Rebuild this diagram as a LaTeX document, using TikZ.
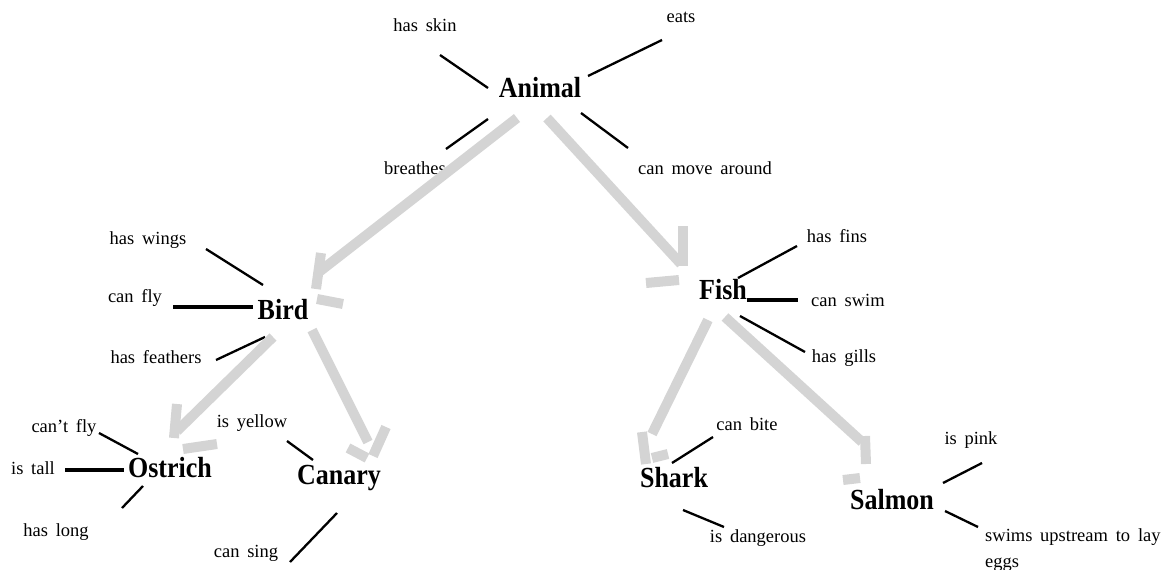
\documentclass[tikz,border=0pt]{standalone}
\usepackage{fontspec}
\setmainfont{Liberation Serif}
\usepackage{graphicx}
\definecolor{arrowgray}{RGB}{212,212,212}
\newcommand\stretchy[1]{\scalebox{1}[1.12]{#1}}
\newcommand\propfont{\fontsize{18.5}{26}\selectfont\spaceskip 0.42em\relax}
\begin{document}
\begin{tikzpicture}[x=1pt,y=-1pt,
  concept/.style={inner sep=0pt, font=\fontsize{26}{30}\selectfont\bfseries},
  attr/.style={inner sep=0pt, font=\propfont},
  tie/.style={line width=2.3pt},
  heavytie/.style={line width=4.6pt},
  isa/.style={draw=arrowgray, line width=10pt},
]
\useasboundingbox (0,0) rectangle (1162,570);

% concepts
\node[concept] (animal)  at (540,88)  {\stretchy{Animal}};
\node[concept] (bird)    at (283,310) {\stretchy{Bird}};
\node[concept] (fish)    at (723,290) {\stretchy{Fish}};
\node[concept] (ostrich) at (170,468) {\stretchy{Ostrich}};
\node[concept] (canary)  at (339,478) {\stretchy{Canary}};
\node[concept] (shark)   at (674,478) {\stretchy{Shark}};
\node[concept] (salmon)  at (892,500) {\stretchy{Salmon}};

% properties
\node[attr] (hasskin)     at (425,25)  {has skin};
\node[attr] (eats)        at (681,17)  {eats};
\node[attr] (breathes)    at (415,168) {breathes};
\node[attr] (canmove)     at (705,168) {can move around};
\node[attr] (haswings)    at (148,240) {has wings};
\node[attr] (canfly)      at (135,298) {can fly};
\node[attr] (hasfeathers) at (156,357) {has feathers};
\node[attr] (hasfins)     at (837,236) {has fins};
\node[attr] (canswim)     at (848,300) {can swim};
\node[attr] (hasgills)    at (844,358) {has gills};
\node[attr] (cantfly)     at (64,428)  {can’t fly};
\node[attr] (istall)      at (33,468)  {is tall};
\node[attr] (haslong)     at (56,532)  {has long};
\node[attr] (isyellow)    at (252,423) {is yellow};
\node[attr] (cansing)     at (246,553) {can sing};
\node[attr] (canbite)     at (747,424) {can bite};
\node[attr] (isdangerous) at (758,538) {is dangerous};
\node[attr] (ispink)      at (971,440) {is pink};
\node[attr, anchor=west, align=left] (swims) at (985,550) {swims upstream to lay\\eggs};

% property ties
\foreach \n/\xa/\ya/\xb/\yb in {
  skin/440/55/488/88, eats/662/40/588/76, breathes/488/119/446/149,
  move/581/113/628/148, wings/206/249/263/285, feathers/265/337/216/360,
  fins/797/246/738/278, gills/740/316/805/352, cantfly/99/433/138/454,
  long/143/486/122/508, yellow/287/441/313/460, sing/337/513/290/562,
  bite/713/437/672/463, dangerous/683/510/724/527, pink/982/463/943/483,
  upstream/945/511/978/527}
{
  \coordinate (\n-a) at (\xa,\ya);
  \coordinate (\n-b) at (\xb,\yb);
  \draw[tie] (\n-a) -- (\n-b);
}
\foreach \n/\xa/\ya/\xb/\yb in {fly/173/307/253/307, swim/747/300/798/300, tall/65/470/124/470}
{
  \coordinate (\n-a) at (\xa,\ya);
  \coordinate (\n-b) at (\xb,\yb);
  \draw[heavytie] (\n-a) -- (\n-b);
}

% is-a arrows: shaft, then the two barbs of the open head
\foreach \n/\sx/\sy/\ex/\ey/\pax/\pay/\pbx/\pby/\qax/\qay/\qbx/\qby in {
  ab/517/118/319/272/321/253/316/289/317/299/343/304,
  af/547/118/681/264/683/226/683/266/646/283/679/280,
  bo/273/337/177/431/177/404/174/438/183/449/217/444,
  bc/312/330/368/442/386/427/373/456/348/448/367/458,
  fs/708/320/652/434/642/432/646/464/652/458/668/454,
  fm/725/317/862/442/865/436/866/464/843/480/860/478}
{
  \coordinate (\n-s) at (\sx,\sy);
  \coordinate (\n-e) at (\ex,\ey);
  \coordinate (\n-p1) at (\pax,\pay);
  \coordinate (\n-p2) at (\pbx,\pby);
  \coordinate (\n-q1) at (\qax,\qay);
  \coordinate (\n-q2) at (\qbx,\qby);
  \draw[isa] (\n-s) -- (\n-e);
  \draw[isa] (\n-p1) -- (\n-p2);
  \draw[isa] (\n-q1) -- (\n-q2);
}
\end{tikzpicture}
\end{document}
